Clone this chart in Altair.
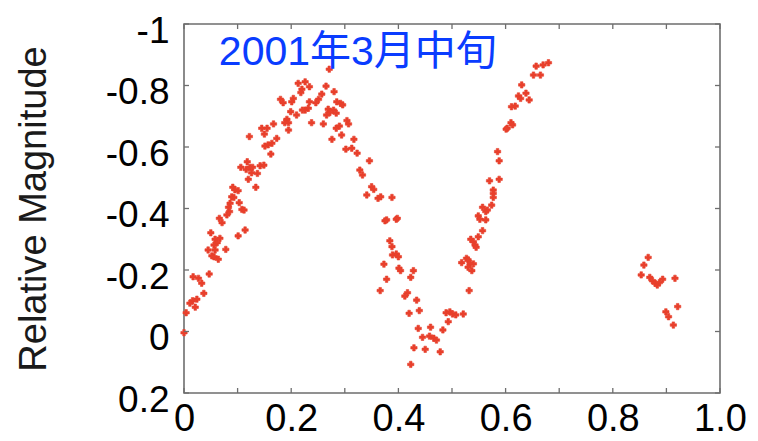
import altair as alt
import pandas as pd

# ---- data ----
phase = [
    0.162, 0.118, 0.106, 0.116, 0.123, 0.128, 0.142, 0.149, 0.137, 0.126,
    0.120, 0.134, 0.091, 0.095, 0.101, 0.089, 0.093, 0.086, 0.103, 0.108,
    0.112, 0.083, 0.085, 0.080, 0.066, 0.071, 0.114, 0.101, 0.050, 0.058,
    0.067, 0.062, 0.056, 0.045, 0.078, 0.058, 0.052, 0.056, 0.064, 0.017,
    0.027, 0.047, 0.033, 0.037, 0.024, 0.016, 0.011, 0.021, 0.004, 0.000,
    0.271, 0.213, 0.226, 0.234, 0.220, 0.218, 0.265, 0.257, 0.180, 0.185,
    0.204, 0.201, 0.251, 0.246, 0.234, 0.232, 0.226, 0.199, 0.210, 0.221,
    0.285, 0.269, 0.279, 0.272, 0.284, 0.266, 0.192, 0.195, 0.188, 0.238,
    0.260, 0.284, 0.276, 0.195, 0.167, 0.145, 0.155, 0.150, 0.173, 0.164,
    0.157, 0.151, 0.122, 0.280,
    0.292, 0.296, 0.304, 0.307, 0.290, 0.294, 0.317, 0.302, 0.313, 0.323,
    0.346, 0.328, 0.333, 0.350, 0.354, 0.341, 0.362, 0.367, 0.388, 0.375,
    0.378, 0.396, 0.398, 0.384, 0.388, 0.389, 0.396, 0.400, 0.373, 0.401,
    0.404, 0.428, 0.423, 0.378, 0.366, 0.417, 0.412,
    0.434, 0.439, 0.420, 0.489, 0.496, 0.501, 0.507, 0.521, 0.493, 0.437,
    0.460, 0.483, 0.445, 0.458, 0.466, 0.471, 0.429, 0.450, 0.478, 0.423,
    0.585, 0.588, 0.570, 0.588, 0.577, 0.577, 0.577, 0.574, 0.557, 0.563,
    0.566, 0.549, 0.552, 0.563, 0.557, 0.549, 0.535, 0.540, 0.543, 0.545,
    0.527, 0.530, 0.518, 0.534, 0.540, 0.530, 0.537, 0.532,
    0.680, 0.670, 0.657, 0.652, 0.665, 0.630, 0.638, 0.624, 0.628, 0.644,
    0.618, 0.611, 0.610, 0.613, 0.603, 0.601,
    0.866, 0.858, 0.853, 0.869, 0.874, 0.879, 0.883, 0.887, 0.893, 0.916,
    0.899, 0.904, 0.913, 0.921,
]
rel_mag = [
    -0.577, -0.552, -0.534, -0.527, -0.534, -0.534, -0.539, -0.541, -0.514, -0.516,
    -0.495, -0.469, -0.469, -0.461, -0.458, -0.438, -0.436, -0.417, -0.419, -0.397,
    -0.395, -0.404, -0.390, -0.379, -0.368, -0.354, -0.330, -0.311, -0.321, -0.300,
    -0.303, -0.289, -0.281, -0.265, -0.267, -0.265, -0.246, -0.243, -0.235, -0.178,
    -0.173, -0.187, -0.157, -0.124, -0.105, -0.100, -0.092, -0.079, -0.061, 0.004,
    -0.853, -0.807, -0.812, -0.796, -0.788, -0.777, -0.798, -0.772, -0.755, -0.744,
    -0.758, -0.747, -0.755, -0.744, -0.747, -0.726, -0.720, -0.715, -0.704, -0.720,
    -0.747, -0.723, -0.720, -0.712, -0.710, -0.704, -0.690, -0.679, -0.679, -0.679,
    -0.675, -0.661, -0.625, -0.655, -0.675, -0.661, -0.661, -0.642, -0.628, -0.612,
    -0.607, -0.603, -0.634, -0.780,
    -0.742, -0.737, -0.686, -0.675, -0.668, -0.639, -0.625, -0.593, -0.596, -0.580,
    -0.555, -0.525, -0.509, -0.471, -0.462, -0.444, -0.433, -0.438, -0.436, -0.360,
    -0.363, -0.365, -0.368, -0.295, -0.276, -0.249, -0.252, -0.243, -0.219, -0.206,
    -0.198, -0.198, -0.176, -0.170, -0.133, -0.126, -0.115,
    -0.102, -0.068, -0.059, -0.061, -0.064, -0.057, -0.054, -0.057, -0.032, -0.010,
    -0.014, -0.005, 0.019, 0.015, 0.022, 0.028, 0.053, 0.058, 0.066, 0.107,
    -0.585, -0.555, -0.490, -0.495, -0.460, -0.449, -0.436, -0.411, -0.404, -0.390,
    -0.395, -0.376, -0.365, -0.363, -0.328, -0.308, -0.300, -0.292, -0.281, -0.274,
    -0.238, -0.233, -0.224, -0.222, -0.220, -0.209, -0.198, -0.133,
    -0.874, -0.867, -0.863, -0.834, -0.834, -0.802, -0.775, -0.766, -0.758, -0.753,
    -0.733, -0.731, -0.679, -0.672, -0.661, -0.658,
    -0.241, -0.216, -0.184, -0.176, -0.165, -0.157, -0.151, -0.159, -0.170, -0.173,
    -0.064, -0.048, -0.021, -0.081,
]
x_tick_values = [0.0, 0.1, 0.2, 0.3, 0.4, 0.5, 0.6, 0.7, 0.8, 0.9, 1.0]
x_label_values = [0.0, 0.2, 0.4, 0.6, 0.8, 1.0]
y_tick_values = [-1.0, -0.8, -0.6, -0.4, -0.2, 0.0, 0.2]
note_text = ["2001年3月中旬"]
note_x = [0.065]
note_y = [-0.867]

# ---- styling ----
W, H = 536, 369
RED = "#e8402c"
BLUE = "#0a3cff"
FRAME = "#6e6e6e"
FONT = "Liberation Sans"
TICK_LEN = 5

df = pd.DataFrame({"phase": phase, "mag": rel_mag})
xt = pd.DataFrame({"phase": x_tick_values})
yt = pd.DataFrame({"mag": y_tick_values})
note = pd.DataFrame({"phase": note_x, "mag": note_y, "label": note_text})

xscale = alt.Scale(domain=[0, 1], nice=False, zero=False)
yscale = alt.Scale(domain=[-1, 0.2], reverse=True, nice=False, zero=False)

xaxis = alt.Axis(
    values=x_label_values,
    labelExpr="datum.value == 0 ? '0' : format(datum.value, '.1f')",
    title=None, ticks=False, domain=False, grid=False,
    labelFontSize=38, labelFont=FONT, labelColor="#000",
    labelPadding=7, labelFlush=False, labelOverlap=False,
)
yaxis = alt.Axis(
    values=y_tick_values,
    labelExpr="(datum.value < -0.0001 ? '-' : '') + format(abs(datum.value), '.1~f')",
    title="Relative Magnitude", ticks=False, domain=False, grid=False,
    labelFontSize=37, labelFont=FONT, labelColor="#000",
    labelPadding=15, labelOffset=7, labelFlush=False, labelOverlap=False,
    titleFontSize=38, titleFont=FONT, titleColor="#1a1a1a",
    titleFontWeight="normal", titlePadding=52,
)

points = alt.Chart(df).mark_point(
    shape="cross", filled=True, size=40, color=RED, stroke=RED,
    strokeWidth=0.6, opacity=1,
).encode(
    x=alt.X("phase:Q", scale=xscale, axis=xaxis),
    y=alt.Y("mag:Q", scale=yscale, axis=yaxis),
)

top_ticks = alt.Chart(xt).mark_rule(color=FRAME, strokeWidth=1.3).encode(
    x=alt.X("phase:Q", scale=xscale, axis=xaxis), y=alt.value(0), y2=alt.value(TICK_LEN))
bottom_ticks = alt.Chart(xt).mark_rule(color=FRAME, strokeWidth=1.3).encode(
    x=alt.X("phase:Q", scale=xscale, axis=xaxis), y=alt.value(H), y2=alt.value(H - TICK_LEN))
left_ticks = alt.Chart(yt).mark_rule(color=FRAME, strokeWidth=1.3).encode(
    y=alt.Y("mag:Q", scale=yscale, axis=yaxis), x=alt.value(0), x2=alt.value(TICK_LEN))
right_ticks = alt.Chart(yt).mark_rule(color=FRAME, strokeWidth=1.3).encode(
    y=alt.Y("mag:Q", scale=yscale, axis=yaxis), x=alt.value(W), x2=alt.value(W - TICK_LEN))

note_layer = alt.Chart(note).mark_text(
    align="left", baseline="alphabetic", fontSize=41,
    font="Liberation Sans, Noto Sans CJK JP", color=BLUE,
).encode(
    x=alt.X("phase:Q", scale=xscale, axis=xaxis),
    y=alt.Y("mag:Q", scale=yscale, axis=yaxis),
    text="label:N",
)

chart = alt.layer(
    points, top_ticks, bottom_ticks, left_ticks, right_ticks, note_layer
).properties(
    width=W, height=H, background="white",
    autosize=alt.AutoSizeParams(type="none"),
    padding={"left": 184, "top": 24, "right": 38, "bottom": 48},
).configure_view(stroke=FRAME, strokeWidth=1.6)

chart.save("out.html", embed_options={"renderer": "svg", "actions": False})
